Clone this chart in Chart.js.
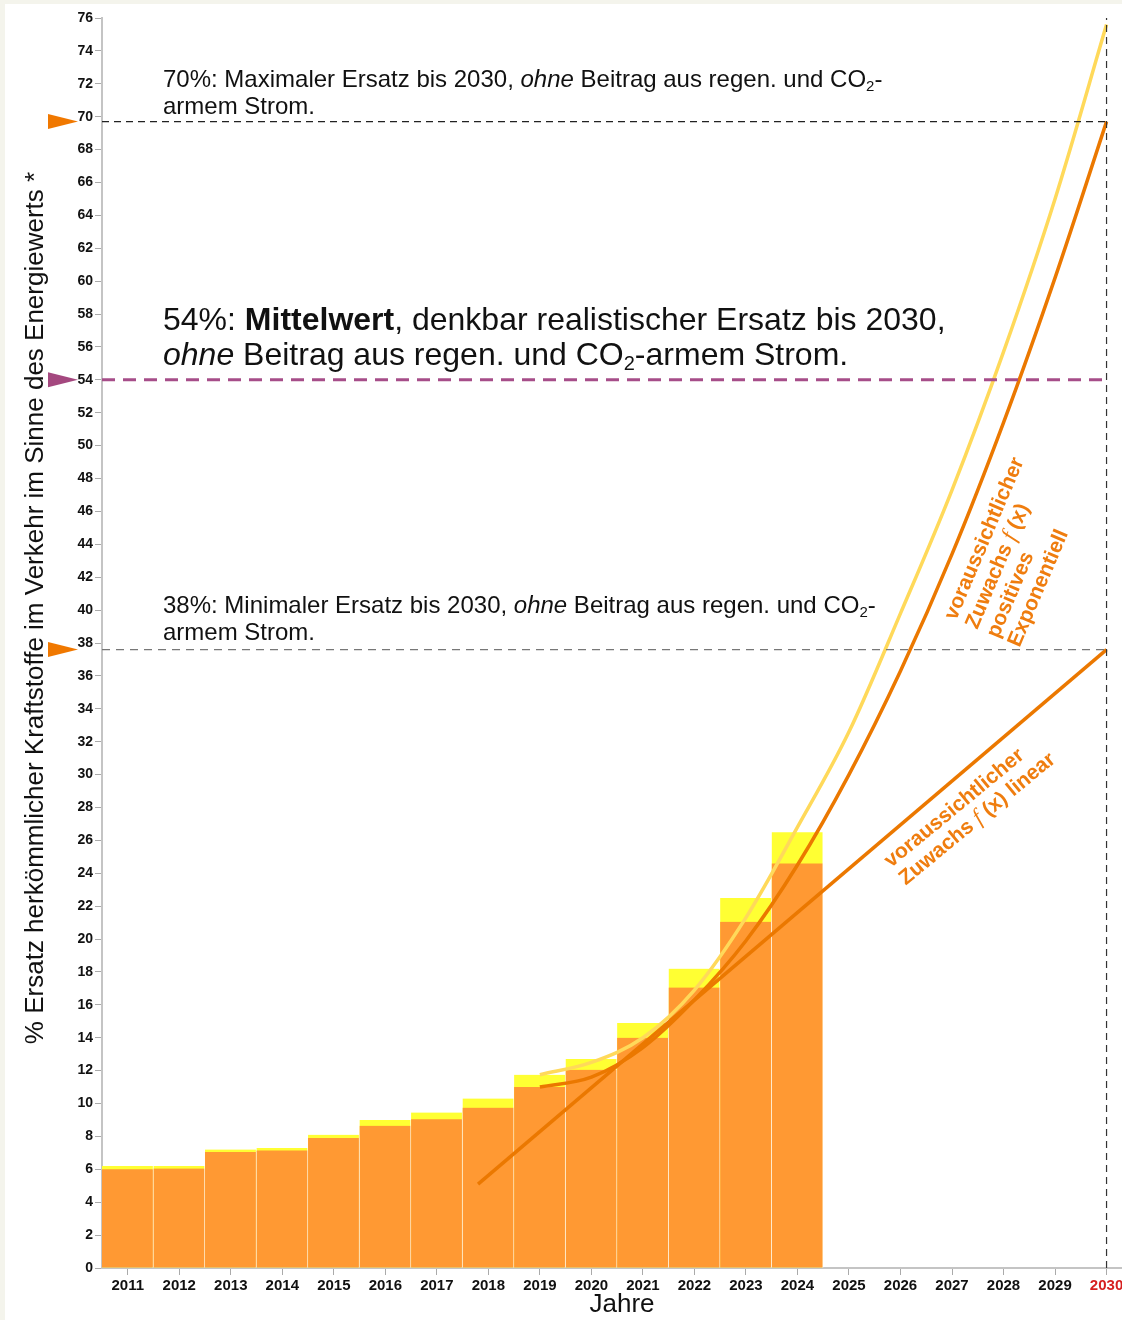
<!DOCTYPE html>
<html lang="de">
<head>
<meta charset="utf-8">
<title>Ersatz herkömmlicher Kraftstoffe bis 2030</title>
<script src="https://cdn.jsdelivr.net/npm/chart.js@4.4.1/dist/chart.umd.min.js"></script>
<style>
  html, body { margin: 0; padding: 0; background: #f4f4ec; overflow: hidden; }
  #wrap { position: absolute; left: 5px; top: 4px; width: 1117px; height: 1316px; background: #fff; }
</style>
</head>
<body>
<div id="wrap"><canvas id="chart"></canvas></div>
<script>
// Werte (% Ersatz im Sinne des Energiewerts)
const years = [2011, 2012, 2013, 2014, 2015, 2016, 2017, 2018, 2019, 2020, 2021, 2022, 2023, 2024];
const replaced = [6.0, 6.05, 7.05, 7.15, 7.9, 8.65, 9.05, 9.75, 11.0, 12.05, 14.0, 17.05, 21.05, 24.6];
const replacedTotal = [6.2, 6.2, 7.2, 7.3, 8.1, 9.0, 9.45, 10.3, 11.75, 12.7, 14.9, 18.2, 22.5, 26.5];

const forecastYears = [2019, 2020, 2021, 2022, 2023, 2024, 2025, 2026, 2027, 2028, 2029, 2030];
const upperForecast = [11.75, 12.5, 14.0, 16.9, 21.3, 26.8, 32.6, 39.8, 47.3, 55.7, 65.0, 75.6];
const expForecast = [11.0, 11.6, 13.4, 16.3, 19.9, 24.5, 30.0, 36.3, 43.4, 51.4, 60.2, 69.7];

const linearYears = [2017.8, 2030];
const linearForecast = [5.1, 37.6];

const axisYears = [2011, 2012, 2013, 2014, 2015, 2016, 2017, 2018, 2019, 2020,
                   2021, 2022, 2023, 2024, 2025, 2026, 2027, 2028, 2029, 2030];

const targetMax = 69.7;
const targetMean = 54;
const targetMin = 37.6;

const ORANGE_BAR = '#ff9933';
const YELLOW_BAR = '#ffff33';
const CURVE_YELLOW = '#ffd95a';
const CURVE_ORANGE = '#eb7800';
const LABEL_ORANGE = '#ef7d0f';
const PURPLE = '#a4487f';
const SANS = '"Liberation Sans", Arial, sans-serif';

const pts = (xs, ys) => xs.map((x, i) => ({ x, y: ys[i] }));

function rich(ctx, x, y, parts) {
  for (const p of parts) {
    ctx.font = p.font;
    ctx.fillText(p.text, x, y + (p.dy || 0));
    x += ctx.measureText(p.text).width;
  }
}

function co2Line(size, before, after) {
  const f = `${size}px ${SANS}`;
  const sub = `${Math.round(size * 0.62)}px ${SANS}`;
  return [...before, { text: ' Beitrag aus regen. und CO', font: f },
    { text: '2', font: sub, dy: size * 0.16 }, { text: after, font: f }];
}

const overlay = {
  id: 'overlay',
  afterDraw(chart) {
    const { ctx, scales: { y } } = chart;
    ctx.save();

    // Markierungen links an der Achse
    [[targetMax, '#f07800'], [targetMean, PURPLE], [targetMin, '#f07800']].forEach(([v, c]) => {
      const py = y.getPixelForValue(v);
      ctx.fillStyle = c;
      ctx.beginPath();
      ctx.moveTo(43, py - 7.5);
      ctx.lineTo(73, py);
      ctx.lineTo(43, py + 7.5);
      ctx.closePath();
      ctx.fill();
    });

    ctx.fillStyle = '#111';
    ctx.textBaseline = 'alphabetic';
    ctx.textAlign = 'left';

    const s1 = 24, f1 = `${s1}px ${SANS}`;
    rich(ctx, 158, 83, co2Line(s1, [{ text: '70%: Maximaler Ersatz bis 2030, ', font: f1 }, { text: 'ohne', font: 'italic ' + f1 }], '-'));
    rich(ctx, 158, 110, [{ text: 'armem Strom.', font: f1 }]);

    const s2 = 32, f2 = `${s2}px ${SANS}`;
    rich(ctx, 158, 326, [{ text: '54%: ', font: f2 }, { text: 'Mittelwert', font: 'bold ' + f2 },
      { text: ', denkbar realistischer Ersatz bis 2030,', font: f2 }]);
    rich(ctx, 158, 361, co2Line(s2, [{ text: 'ohne', font: 'italic ' + f2 }], '-armem Strom.'));

    rich(ctx, 158, 609, co2Line(s1, [{ text: '38%: Minimaler Ersatz bis 2030, ', font: f1 }, { text: 'ohne', font: 'italic ' + f1 }], '-'));
    rich(ctx, 158, 636, [{ text: 'armem Strom.', font: f1 }]);

    // gedrehte Beschriftungen der Prognosekurven
    const lf = `bold 21px ${SANS}`;
    const ff = `italic 23px "Liberation Serif", serif`;
    const groups = [
      { x: 951, y: 617, angle: -67, lines: [
        [{ text: 'voraussichtlicher', font: lf }],
        [{ text: 'Zuwachs ', font: lf }, { text: 'f', font: ff }, { text: ' (x)', font: lf }],
        [{ text: 'positives', font: lf }],
        [{ text: 'Exponentiell', font: lf }]] },
      { x: 886, y: 864, angle: -39.5, lines: [
        [{ text: 'voraussichtlicher', font: lf }],
        [{ text: 'Zuwachs ', font: lf }, { text: 'f', font: ff }, { text: ' (x) linear', font: lf }]] }
    ];
    ctx.fillStyle = LABEL_ORANGE;
    for (const g of groups) {
      ctx.save();
      ctx.translate(g.x, g.y);
      ctx.rotate(g.angle * Math.PI / 180);
      g.lines.forEach((ln, i) => rich(ctx, 0, i * 23, ln));
      ctx.restore();
    }

    // Achsentitel
    ctx.fillStyle = '#111';
    ctx.font = `26px ${SANS}`;
    ctx.textAlign = 'center';
    ctx.textBaseline = 'middle';
    ctx.fillText('Jahre', 617, 1301);
    ctx.save();
    ctx.translate(31, 604);
    ctx.rotate(-Math.PI / 2);
    ctx.fillText('% Ersatz herkömmlicher Kraftstoffe im Verkehr im Sinne des Energiewerts *', 0, 0);
    ctx.restore();

    ctx.restore();
  }
};

Chart.defaults.font.family = SANS;
Chart.defaults.color = '#111';

const refLine = (data, color, width, dash) => ({
  type: 'line', data, borderColor: color, borderWidth: width, borderDash: dash,
  pointRadius: 0, fill: false, order: 0
});

new Chart(document.getElementById('chart'), {
  type: 'bar',
  data: {
    datasets: [
      {
        label: 'mit zusätzlichem Anteil',
        data: pts(years, replacedTotal),
        backgroundColor: YELLOW_BAR,
        borderColor: 'rgba(255,255,255,0.8)',
        borderWidth: { left: 0, right: 1, top: 0, bottom: 0 },
        borderSkipped: false,
        grouped: false, barPercentage: 1, categoryPercentage: 1, order: 4
      },
      {
        label: 'Ersatz',
        data: pts(years, replaced),
        backgroundColor: ORANGE_BAR,
        borderColor: 'rgba(255,255,255,0.8)',
        borderWidth: { left: 0, right: 1, top: 0, bottom: 0 },
        borderSkipped: false,
        grouped: false, barPercentage: 1, categoryPercentage: 1, order: 3
      },
      {
        type: 'line', label: 'obere Prognose', data: pts(forecastYears, upperForecast),
        borderColor: CURVE_YELLOW, borderWidth: 3.5, pointRadius: 0,
        cubicInterpolationMode: 'monotone', order: 2
      },
      {
        type: 'line', label: 'exponentiell', data: pts(forecastYears, expForecast),
        borderColor: CURVE_ORANGE, borderWidth: 3.5, pointRadius: 0,
        cubicInterpolationMode: 'monotone', order: 1
      },
      {
        type: 'line', label: 'linear', data: pts(linearYears, linearForecast),
        borderColor: CURVE_ORANGE, borderWidth: 3.5, pointRadius: 0, order: 1
      },
      refLine([{ x: 2010.5, y: targetMax }, { x: 2030, y: targetMax }], '#222', 1.2, [7, 5]),
      refLine([{ x: 2010.5, y: targetMean }, { x: 2030, y: targetMean }], '#a64d89', 3, [13, 8]),
      refLine([{ x: 2010.5, y: targetMin }, { x: 2030, y: targetMin }], '#777', 1.4, [8, 6]),
      refLine([{ x: 2030, y: 0 }, { x: 2030, y: 76 }], '#333', 1.2, [7, 5])
    ]
  },
  options: {
    responsive: true,
    maintainAspectRatio: false,
    animation: false,
    layout: { padding: { top: 14, right: 0, left: 0, bottom: 0 } },
    plugins: { legend: { display: false }, tooltip: { enabled: false } },
    scales: {
      x: {
        type: 'linear', min: 2010.5, max: 2030.3, offset: false,
        grid: { drawOnChartArea: false, tickLength: 7, tickColor: '#aaa' },
        border: { color: '#c4c4c4', width: 2 },
        afterBuildTicks: s => { s.ticks = axisYears.map(v => ({ value: v - 0.5 })); },
        afterFit: s => { s.height = 52; },
        ticks: {
          autoSkip: false, maxRotation: 0, padding: 2, labelOffset: 25.76,
          font: { size: 15, weight: 'bold' },
          callback: v => String(v + 0.5),
          color: c => (c.tick && c.tick.value + 0.5 === 2030 ? '#d62020' : '#111')
        }
      },
      y: {
        min: 0, max: 76,
        grid: { drawOnChartArea: false, tickLength: 7, tickColor: '#aaa' },
        border: { color: '#c4c4c4', width: 2 },
        afterFit: s => { s.width = 97; },
        ticks: { stepSize: 2, autoSkip: false, padding: 2, font: { size: 14, weight: 'bold' }, color: '#111' }
      }
    }
  },
  plugins: [overlay]
});
</script>
</body>
</html>
